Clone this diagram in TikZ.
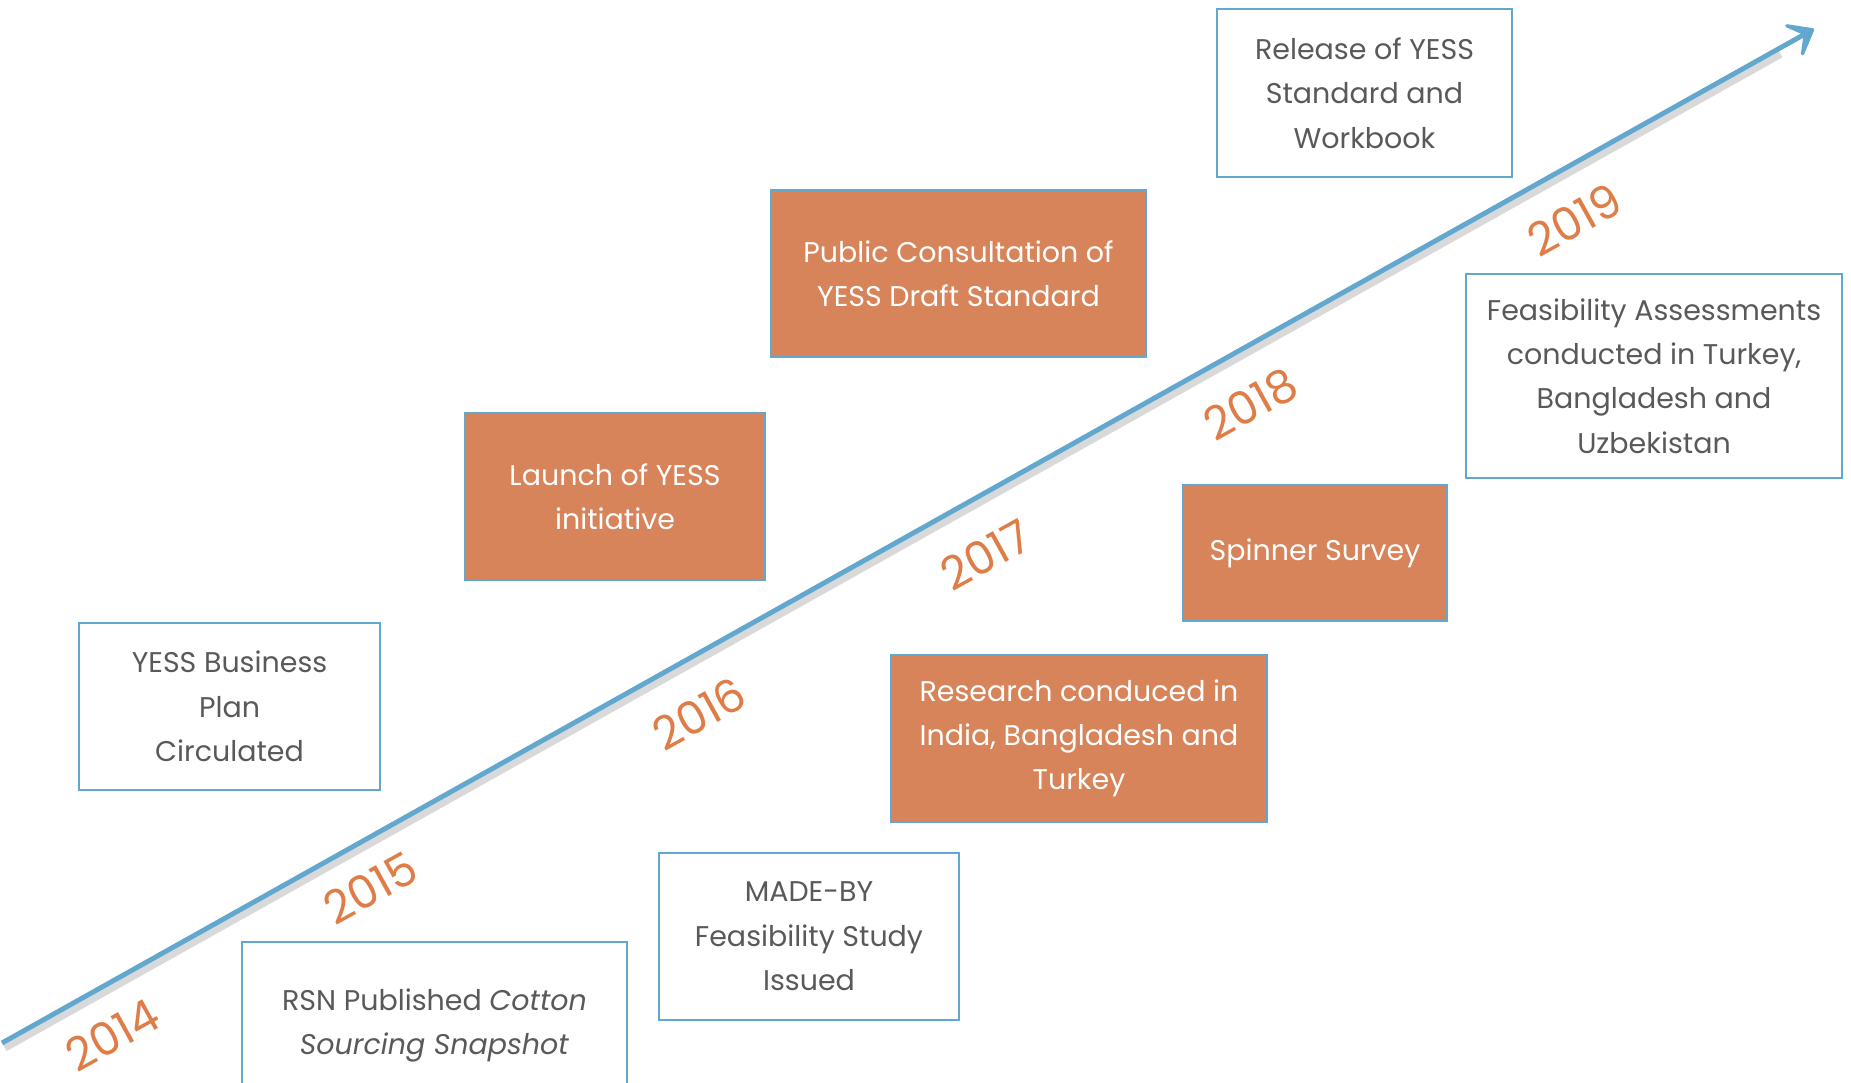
\documentclass[tikz,border=0pt]{standalone}
\usepackage{fontspec}
\setmainfont{Poppins}
\usetikzlibrary{arrows.meta, calc}

\definecolor{lineblue}{HTML}{62A8CE}
\definecolor{boxorange}{HTML}{D8845A}
\definecolor{yearorange}{HTML}{DF7D48}
\definecolor{textgray}{HTML}{595959}

\begin{document}
\begin{tikzpicture}[
    x=0.01cm, y=-0.01cm,
    event/.style={rectangle, draw=lineblue, line width=0.6pt, align=center,
                  text=textgray, font=\fontsize{8.1}{12.6}\selectfont,
                  inner sep=2pt},
    hot/.style={event, fill=boxorange, text=white},
    year/.style={text=yearorange, font=\fontsize{13}{15}\selectfont,
                 rotate=29, inner sep=1pt},
    timeline/.style={-{Stealth[length=3.2mm, width=5mm, inset=1.9mm, round]},
                     line width=1.4pt, lineblue},
  ]

  % Canvas
  \useasboundingbox (0,0) rectangle (1851,1083);
  \clip (0,0) rectangle (1851,1083);

  % Time line
  \coordinate (start) at (2, 1043);
  \coordinate (end)   at (1814, 29);
  \draw[line width=2pt, black!15]
    ($(start)+(3,5)$) -- ($(end)!0.02!(start)+(3,5)$);
  \draw[timeline] (start) -- (end);

  % Years
  \node[year] (y14) at (112, 1035) {2014};
  \node[year] (y15) at (370, 888)  {2015};
  \node[year] (y16) at (699, 714)  {2016};
  \node[year] (y17) at (986, 555)  {2017};
  \node[year] (y18) at (1251, 404) {2018};
  \node[year] (y19) at (1574, 220) {2019};

  % Events above the line
  \node[event, minimum width=3.01cm, minimum height=1.67cm] (plan)
    at (229.5, 706.5) {YESS Business\\Plan\\Circulated};
  \node[hot, minimum width=3.00cm, minimum height=1.67cm] (launch)
    at (615, 496.5) {Launch of YESS\\initiative};
  \node[hot, minimum width=3.75cm, minimum height=1.67cm] (consult)
    at (958.5, 273.5) {Public Consultation of\\YESS Draft Standard};
  \node[event, minimum width=2.95cm, minimum height=1.68cm] (release)
    at (1364.5, 93) {Release of YESS\\Standard and\\Workbook};

  % Events below the line
  \node[event, minimum width=3.85cm, minimum height=1.67cm] (rsn)
    at (434.5, 1025.5) {RSN Published \textit{Cotton}\\\textit{Sourcing Snapshot}};
  \node[event, minimum width=3.00cm, minimum height=1.67cm] (madeby)
    at (809, 936.5) {MADE-BY\\Feasibility Study\\Issued};
  \node[hot, minimum width=3.76cm, minimum height=1.67cm] (research)
    at (1079, 738.5) {Research conduced in\\India, Bangladesh and\\Turkey};
  \node[hot, minimum width=2.64cm, minimum height=1.36cm] (spinner)
    at (1315, 553) {Spinner Survey};
  \node[event, minimum width=3.76cm, minimum height=2.04cm] (feas)
    at (1654, 376) {Feasibility Assessments\\conducted in Turkey,\\Bangladesh and\\Uzbekistan};

\end{tikzpicture}
\end{document}
